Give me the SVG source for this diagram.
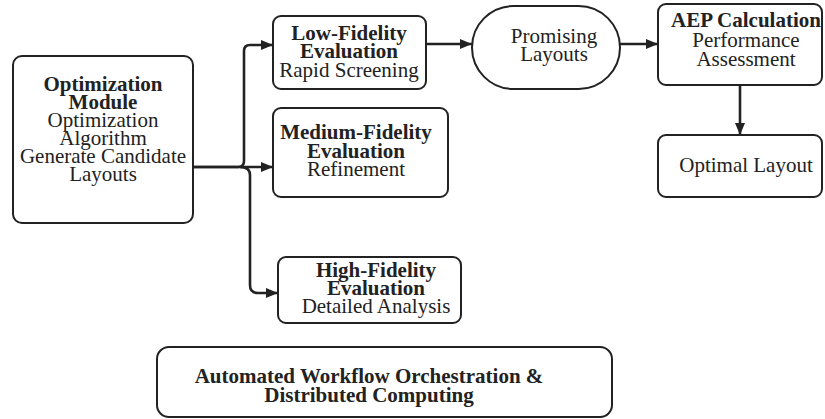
<svg xmlns="http://www.w3.org/2000/svg" width="825" height="419" viewBox="0 0 825 419">
<style>
.box{fill:#fff;stroke:#222;stroke-width:2}
text{font-family:'Liberation Serif','Times New Roman',Times,'DejaVu Serif',serif;font-size:21px;fill:#222;text-anchor:middle}
.b{font-weight:bold}
.c{fill:none;stroke:#222;stroke-width:2.6}
</style>
<defs>
<marker id="ah" markerUnits="userSpaceOnUse" markerWidth="12" markerHeight="12" viewBox="0 0 12 12" refX="12" refY="6" orient="auto">
<path d="M0,1 L12,6 L0,11 Z" fill="#222"/>
</marker>
</defs>
<rect width="825" height="419" fill="#fff"/>
<g id="connectors">
<path class="c" d="M193,167 H273" marker-end="url(#ah)"/>
<path class="c" d="M193,167 H238 Q244,167 244,161 V51 Q244,45 250,45 H273" marker-end="url(#ah)"/>
<path class="c" d="M240,167 Q250,167 250,175 V285 Q250,293 258,293 H278" marker-end="url(#ah)"/>
<path class="c" d="M426,44 H472" marker-end="url(#ah)"/>
<path class="c" d="M620,44 H658" marker-end="url(#ah)"/>
<path class="c" d="M740,85 V135" marker-end="url(#ah)"/>
</g>
<g id="opt" font-family="Liberation Serif, serif">
<rect class="box" x="13" y="56" width="180" height="167" rx="9"/>
<text class="b" x="103" y="91">Optimization</text>
<text class="b" x="103" y="109">Module</text>
<text x="103" y="127">Optimization</text>
<text x="103" y="145">Algorithm</text>
<text x="103" y="163">Generate Candidate</text>
<text x="103" y="181">Layouts</text>
</g>
<g id="low">
<rect class="box" x="273" y="16" width="153" height="73" rx="8"/>
<text class="b" x="349" y="40">Low-Fidelity</text>
<text class="b" x="349" y="58">Evaluation</text>
<text x="349" y="77">Rapid Screening</text>
</g>
<g id="medium">
<rect class="box" x="273" y="108" width="175" height="89" rx="8"/>
<text class="b" x="356" y="139">Medium-Fidelity</text>
<text class="b" x="356" y="158">Evaluation</text>
<text x="356" y="176">Refinement</text>
</g>
<g id="high">
<rect class="box" x="278" y="257" width="183" height="66" rx="8"/>
<text class="b" x="376" y="277">High-Fidelity</text>
<text class="b" x="376" y="295">Evaluation</text>
<text x="376" y="313">Detailed Analysis</text>
</g>
<g id="promising">
<rect class="box" x="472" y="6" width="148" height="83" rx="41.5"/>
<text x="554" y="43">Promising</text>
<text x="554" y="61">Layouts</text>
</g>
<g id="aep">
<rect class="box" x="658" y="4" width="164" height="81" rx="8"/>
<text class="b" x="746" y="27">AEP Calculation</text>
<text x="746" y="47">Performance</text>
<text x="746" y="66">Assessment</text>
</g>
<g id="optimal">
<rect class="box" x="658" y="135" width="164" height="62" rx="8"/>
<text x="746" y="172">Optimal Layout</text>
</g>
<g id="workflow">
<rect class="box" x="157" y="347" width="455" height="70" rx="12"/>
<text class="b" x="369" y="383">Automated Workflow Orchestration &amp;</text>
<text class="b" x="369" y="402">Distributed Computing</text>
</g>
</svg>
